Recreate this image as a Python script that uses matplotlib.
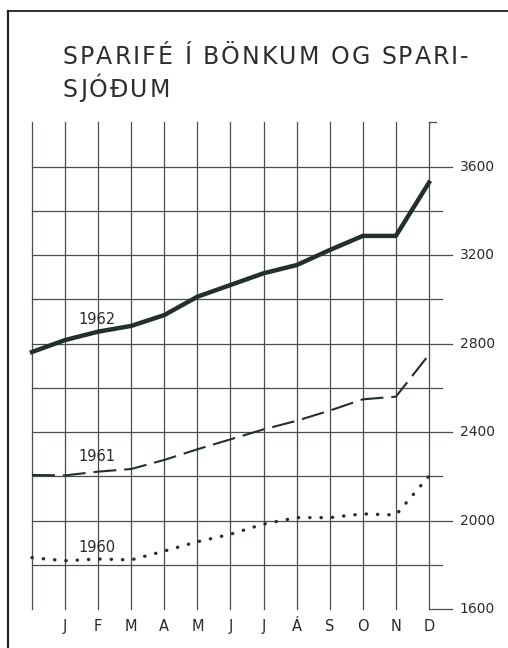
import matplotlib.pyplot as plt
from matplotlib.lines import Line2D


months = ["J", "F", "M", "A", "M", "J", "J", "Á", "S", "O", "N", "D"]
# index 0 = year start, 1..12 = end of each month
savings_1962 = [2762, 2816, 2854, 2880, 2929, 3012, 3065, 3118, 3155, 3223, 3287, 3287, 3528]
savings_1961 = [2206, 2204, 2221, 2233, 2274, 2322, 2367, 2412, 2451, 2497, 2548, 2560, 2750]
savings_1960 = [1832, 1818, 1826, 1822, 1862, 1904, 1938, 1984, 2013, 2013, 2030, 2025, 2201]
ytick_values = [1600, 2000, 2400, 2800, 3200, 3600]
grid_values = [1800, 2000, 2200, 2400, 2600, 2800, 3000, 3200, 3400, 3600]
title_lines = ["SPARIFÉ Í BÖNKUM OG SPARI-", "SJÓÐUM"]

INK = "#23302a"
GRID = "#4a4f4c"
W, H = 508, 648


def spaced_text(fig, x_px, y_px, s, tracking_px, **kw):
    # draws a string one glyph at a time with extra letter spacing
    renderer = fig.canvas.get_renderer()
    x = x_px
    for ch in s:
        t = fig.text(x / W, 1 - y_px / H, ch, ha="left", va="center", **kw)
        if ch == " ":
            w = t.get_fontsize() * 100 / 72 * 0.32
        else:
            w = t.get_window_extent(renderer).width
        x += w + tracking_px


fig = plt.figure(figsize=(5.08, 6.48), dpi=100)
ax = fig.add_axes([0.0304, 0.0261, 0.9117, 0.802])
ax.set_xlim(-0.5, 13.5)
ax.set_ylim(1500, 3850)
ax.axis("off")

xs = list(range(len(savings_1962)))
top = 3800

# vertical grid
for x in xs:
    ax.plot([x, x], [1600, top], color=GRID, lw=0.9, zorder=1)
ax.plot([12, 12.2], [top, top], color=GRID, lw=0.9, zorder=1)
ax.plot([12, 12.7], [1600, 1600], color=GRID, lw=0.9, zorder=1)

# horizontal grid, labelled lines reach a bit further right
for v in grid_values:
    end = 12.7 if v in ytick_values else 12.4
    ax.plot([0, end], [v, v], color=GRID, lw=0.9, zorder=1)

for v in ytick_values:
    ax.text(12.93, v, str(v), ha="left", va="center", fontsize=10, color="#2a2a2a")

for i, m in enumerate(months, start=1):
    ax.text(i, 1523, m, ha="center", va="center", fontsize=10.5, color="#2a2a2a")

ax.plot(xs, savings_1962, color=INK, lw=3.2, solid_joinstyle="round", zorder=3)
ax.plot(xs, savings_1961, color=INK, lw=1.5, dashes=(11, 3.8), zorder=3)
ax.plot(xs, savings_1960, color=INK, lw=2.4, dashes=(0.1, 3.3),
        dash_capstyle="round", zorder=3)

ax.text(1.96, 2910, "1962", ha="center", va="center", fontsize=10.5, color="#2a2a2a")
ax.text(1.96, 2290, "1961", ha="center", va="center", fontsize=10.5, color="#2a2a2a")
ax.text(1.96, 1877, "1960", ha="center", va="center", fontsize=10.5, color="#2a2a2a")

title_kw = dict(fontsize=17, color="#2e2e2e", family="DejaVu Sans")
spaced_text(fig, 63, 57, title_lines[0], 2.0, **title_kw)
spaced_text(fig, 63, 90, title_lines[1], 2.0, **title_kw)

# outer frame of the scan
fig.add_artist(Line2D([8 / W, 8 / W], [0, 1 - 11 / H], color="#222", lw=1.6))
fig.add_artist(Line2D([8 / W, 1], [1 - 11 / H, 1 - 11 / H], color="#222", lw=1.3))

fig.savefig("out.png", dpi=100)
